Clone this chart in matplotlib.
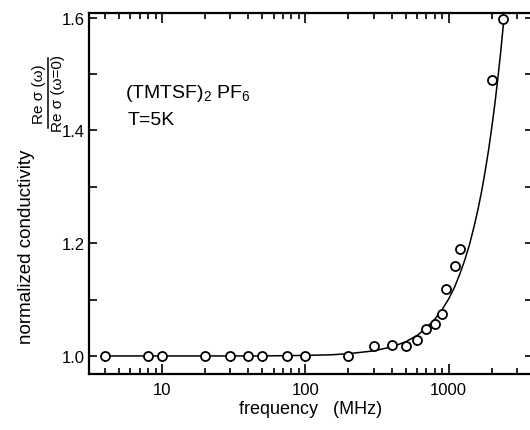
import numpy as np
import matplotlib
matplotlib.use("Agg")
import matplotlib.pyplot as plt
import matplotlib.ticker as ticker
from matplotlib.lines import Line2D

plt.rcParams["font.family"] = ["Liberation Sans Narrow", "Liberation Sans", "DejaVu Sans"]
plt.rcParams["mathtext.fontset"] = "custom"
plt.rcParams["mathtext.rm"] = "Liberation Sans"
plt.rcParams["mathtext.it"] = "Liberation Sans:italic"

# measured points (MHz, normalized conductivity)
freq = [4, 8, 10, 20, 30, 40, 50, 75, 100, 200, 300, 400, 500, 600, 700,
        800, 900, 960, 1100, 1200, 2000, 2380]
cond = [1.000, 1.000, 1.000, 1.000, 1.000, 1.000, 1.000, 1.000, 1.000, 1.000,
        1.017, 1.020, 1.018, 1.028, 1.048, 1.057, 1.075, 1.118, 1.159, 1.189,
        1.489, 1.598]

# fitted curve
fit_freq = [4, 10, 50, 100, 150, 200, 300, 400, 500, 600, 700, 800, 900, 1000,
            1100, 1200, 1300, 1400, 1500, 1600, 1700, 1800, 1900, 2000, 2100,
            2200, 2300, 2420]
fit_cond = [1.000, 1.000, 1.000, 1.001, 1.002, 1.004, 1.009, 1.016, 1.025,
            1.036, 1.050, 1.065, 1.082, 1.101, 1.122, 1.146, 1.171, 1.198,
            1.228, 1.259, 1.292, 1.328, 1.365, 1.405, 1.446, 1.490, 1.535,
            1.592]

W, H = 530, 431
fig = plt.figure(figsize=(W / 100, H / 100), dpi=100)
ax = fig.add_axes([89 / W, 1 - 375 / H, 444 / W, 361 / H])

ax.plot(fit_freq, fit_cond, color="black", lw=1.1, zorder=2)
ax.plot(freq, cond, "o", ms=6.5, mfc="white", mec="black", mew=1.3, zorder=3)

ax.set_xscale("log")
ax.set_xlim(3.09, 3880)
ax.set_ylim(0.968, 1.608)

ax.xaxis.set_major_locator(ticker.FixedLocator([10, 100, 1000]))
ax.xaxis.set_major_formatter(ticker.FixedFormatter(["10", "100", "1000"]))
ax.xaxis.set_minor_locator(ticker.LogLocator(base=10, subs=np.arange(2, 10), numticks=20))
ax.xaxis.set_minor_formatter(ticker.NullFormatter())

ax.yaxis.set_major_locator(ticker.MultipleLocator(0.2))
ax.yaxis.set_minor_locator(ticker.MultipleLocator(0.1))
ax.yaxis.set_major_formatter(ticker.FormatStrFormatter("%.1f"))

ax.tick_params(axis="both", which="both", direction="in", top=True, right=True,
               width=1.2, labelsize=12)
ax.tick_params(axis="x", which="major", length=7, pad=6)
ax.tick_params(axis="x", which="minor", length=4)
ax.tick_params(axis="y", which="both", length=6, pad=3)

for sp in ax.spines.values():
    sp.set_linewidth(1.6)

ax.set_xlabel("frequency   (MHz)", fontsize=13, labelpad=2)

# y label: text plus a small fraction above it
fig.text(27 / W, 1 - 247 / H, "normalized conductivity", rotation=90,
         ha="center", va="center", fontsize=13.5)
fig.text(39 / W, 1 - 94 / H, "Re σ (ω)", rotation=90,
         ha="center", va="center", fontsize=11)
fig.text(58 / W, 1 - 94 / H, "Re σ (ω=0)", rotation=90,
         ha="center", va="center", fontsize=11)
fig.add_artist(Line2D([48 / W, 48 / W], [1 - 59 / H, 1 - 129 / H],
                      color="black", lw=1.1, transform=fig.transFigure))

ax.text(0.082, 0.78, r"(TMTSF)$_2$ PF$_6$", transform=ax.transAxes,
        fontsize=14, ha="left", va="center")
ax.text(0.088, 0.705, "T=5K", transform=ax.transAxes,
        fontsize=14, ha="left", va="center")

fig.savefig("out.png", dpi=100)
